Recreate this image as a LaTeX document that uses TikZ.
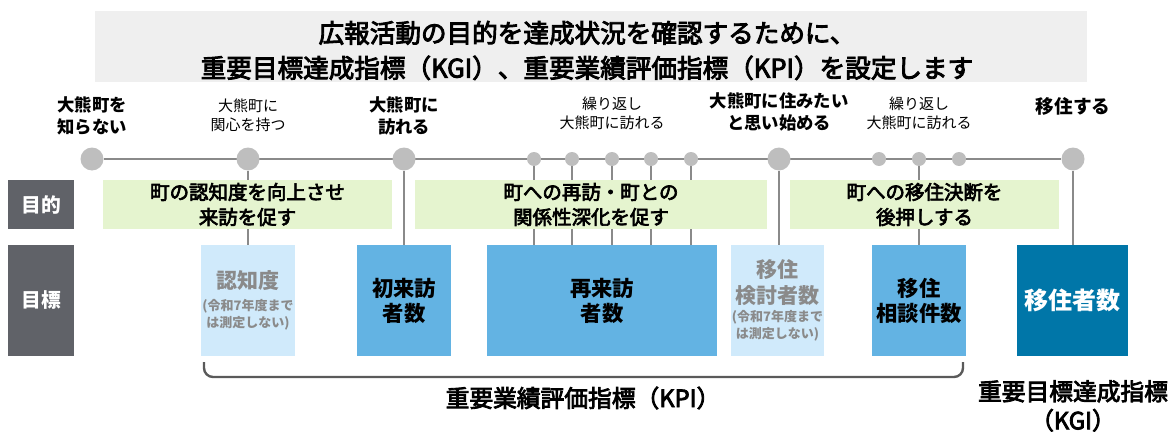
\documentclass[tikz,border=0pt]{standalone}
\usepackage{fontspec}
\setmainfont{Noto Sans CJK JP}
\newfontfamily\medfont{Noto Sans CJK JP}[FakeBold=3.5]
\usetikzlibrary{calc}
\pgfdeclarelayer{bg}
\pgfsetlayers{bg,main}
\newcommand\myfs[2]{\fontsize{#1}{#2}\selectfont}
\definecolor{titlebg}{HTML}{EFEFEF}
\definecolor{rowlab}{HTML}{606268}
\definecolor{greenbg}{HTML}{E5F4CF}
\definecolor{lightblue}{HTML}{D0EAFB}
\definecolor{midblue}{HTML}{63B3E3}
\definecolor{darkblue}{HTML}{0076A8}
\definecolor{graytext}{HTML}{8A8A8A}
\definecolor{dotgray}{HTML}{BEBEBE}
\definecolor{linegray}{HTML}{8A8A8A}
\definecolor{bracketgray}{HTML}{5A5A5A}
\tikzset{
  px/.style 2 args={minimum width=#1*0.75pt, minimum height=#2*0.75pt},
  plainbox/.style={inner sep=0pt, outer sep=0pt, draw=none},
  bigdot/.style={circle, fill=dotgray, inner sep=0pt, minimum size=23*0.75pt},
  smalldot/.style={circle, fill=dotgray, inner sep=0pt, minimum size=14*0.75pt},
  tl/.style={draw=linegray, line width=1.5*0.75pt},
  conn/.style={draw=linegray, line width=1.4*0.75pt},
  lab/.style={inner sep=0pt, align=center},
  boldlab/.style={lab, font=\bfseries\myfs{13}{16.5}},
  reglab/.style={lab, font=\myfs{11.25}{14}},
  rowbox/.style={plainbox, fill=rowlab, text=white, font=\bfseries\myfs{14.8}{18}},
  greenbox/.style={plainbox, fill=greenbg, align=center, font=\medfont\myfs{14.6}{18.75}},
  lightbox/.style={plainbox, fill=lightblue},
  midbox/.style={plainbox, fill=midblue, align=center, font=\bfseries\myfs{16}{18.75}},
  darkbox/.style={plainbox, fill=darkblue, text=white, align=center, font=\bfseries\myfs{18}{22}},
  graybig/.style={lab, text=graytext, font=\bfseries\myfs{15.75}{19.5}},
  graysmall/.style={lab, text=graytext, font=\bfseries\myfs{9.75}{12.75}},
  bottomlab/.style={lab, font=\medfont\myfs{17.8}{21.75}},
  bracketline/.style={draw=bracketgray, line width=2.4*0.75pt, rounded corners=9*0.75pt},
}
\begin{document}
\begin{tikzpicture}[x=0.75pt,y=-0.75pt]
\useasboundingbox (0,0) rectangle (1172,432);
% title
\node[plainbox, fill=titlebg, px={992}{71}] (titlebox) at (591,46.5) {};
\node[lab, font=\medfont\myfs{19.2}{26.25}] (titletext) at (587,50.5)
  {広報活動の目的を達成状況を確認するために、\\重要目標達成指標（KGI）、重要業績評価指標（KPI）を設定します};
% stage labels
\node[boldlab] (l1) at (92,116) {大熊町を\\知らない};
\node[reglab] (l2) at (248,115) {大熊町に\\関心を持つ};
\node[boldlab] (l3) at (404,116) {大熊町に\\訪れる};
\node[reglab] (l4) at (612,113) {繰り返し\\大熊町に訪れる};
\node[boldlab] (l5) at (779,112) {大熊町に住みたい\\と思い始める};
\node[reglab] (l6) at (919,113) {繰り返し\\大熊町に訪れる};
\node[lab, font=\bfseries\myfs{14}{16}] (l7) at (1073,106) {移住する};
% circles
\node[bigdot] (c1) at (92,159) {};
\node[bigdot] (c2) at (248,159) {};
\node[bigdot] (c3) at (404,159) {};
\node[bigdot] (c4) at (779,159) {};
\node[bigdot] (c5) at (1073,159) {};
\node[smalldot] (s1) at (534,159) {};
\node[smalldot] (s2) at (572,159) {};
\node[smalldot] (s3) at (612,159) {};
\node[smalldot] (s4) at (651,159) {};
\node[smalldot] (s5) at (691,159) {};
\node[smalldot] (s6) at (879,159) {};
\node[smalldot] (s7) at (919,159) {};
\node[smalldot] (s8) at (959,159) {};
% row labels
\node[rowbox, px={66}{49}] (rmok) at (41,204.5) {目的};
\node[rowbox, px={66}{111}] (rhyo) at (41,300.5) {目標};
% purpose boxes
\node[greenbox, px={289}{49}] (g1) at (247.5,204.5) {町の認知度を向上させ\\来訪を促す};
\node[greenbox, px={352}{49}] (g2) at (591,204.5) {町への再訪・町との\\関係性深化を促す};
\node[greenbox, px={269}{49}] (g3) at (924.5,204.5) {町への移住決断を\\後押しする};
% indicator boxes
\node[lightbox, px={94}{111}] (k1) at (248,300.5) {};
\node[graybig] (k1a) at (248,281) {認知度};
\node[graysmall] (k1b) at (248,314.5) {(令和7年度まで\\は測定しない)};
\node[midbox, px={94}{111}] (k2) at (404,300.5) {初来訪\\者数};
\node[midbox, px={230}{111}] (k3) at (602,300.5) {再来訪\\者数};
\node[lightbox, px={93}{111}] (k4) at (777.5,300.5) {};
\node[graybig] (k4a) at (777.5,283) {移住\\検討者数};
\node[graysmall] (k4b) at (777.5,326) {(令和7年度まで\\は測定しない)};
\node[midbox, px={94}{111}] (k5) at (919,300.5) {移住\\相談件数};
\node[darkbox, px={111}{111}] (k6) at (1072.5,300.5) {移住者数};
% timeline and connectors
\begin{pgfonlayer}{bg}
\draw[tl] (c1) -- (c5);
\draw[conn] (c2) -- (c2 |- k1.north);
\draw[conn] (c3) -- (c3 |- k2.north);
\foreach \s in {s1,s2,s3,s4,s5} \draw[conn] (\s) -- (\s |- k3.north);
\draw[conn] (c4) -- (c4 |- k4.north);
\draw[conn] (s7) -- (s7 |- k5.north);
\draw[conn] (c5) -- (c5 |- k6.north);
\end{pgfonlayer}
% bracket
\coordinate (bl) at (204,362);
\coordinate (br) at (963,362);
\draw[bracketline] (bl) -- ++(0,15) -| (br);
\node[bottomlab] (kpi) at (583,398) {重要業績評価指標（KPI）};
\node[bottomlab] (kgi) at (1073,406) {重要目標達成指標\\（KGI）};
\end{tikzpicture}
\end{document}
